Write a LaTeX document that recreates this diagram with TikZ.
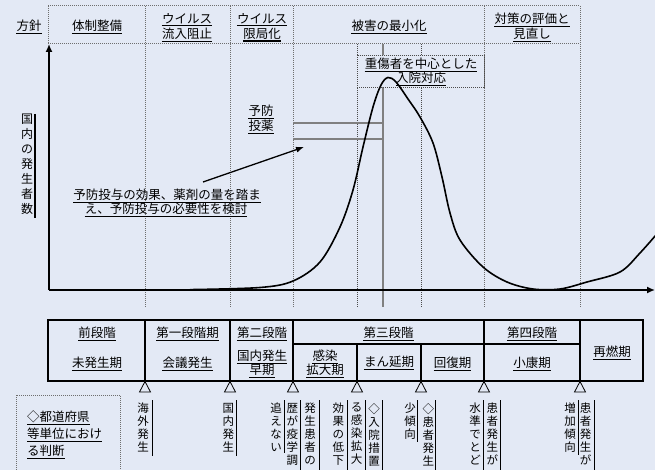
\documentclass[tikz,border=0pt]{standalone}
\usepackage{fontspec}
\setmainfont{Noto Sans CJK JP}
\usetikzlibrary{arrows.meta}
\definecolor{bg}{RGB}{227,233,245}
\definecolor{dotgray}{RGB}{110,110,110}
% underlined label: node plus a TikZ rule under its baseline
\newcommand\uln[4][]{%
  \node[lbl,#1] (#2) at (#3) {#4};
  \draw[ulrule] (#2.south west) -- (#2.south east);}
\begin{document}
\begin{tikzpicture}[x=1pt,y=-1pt,
  lbl/.style={font=\fontsize{12.5}{15}\selectfont, inner xsep=0pt, inner ysep=1.2pt},
  ulrule/.style={draw=black, line width=1.2pt},
  vtext/.style={font=\fontsize{11.5}{13}\selectfont, inner sep=0pt, align=center, anchor=north},
  dotln/.style={draw=dotgray, line width=1pt, dash pattern=on 1pt off 1pt},
  fineln/.style={draw=black!70, line width=0.9pt, dash pattern=on 1pt off 1pt},
  grayln/.style={draw=gray, line width=1.6pt},
  axis/.style={draw=black, line width=1.5pt, -{Latex[length=8pt,width=7pt]}},
  curve/.style={draw=black, line width=1.6pt},
  tbl/.style={draw=black, line width=1.2pt},
  sideln/.style={draw=black, line width=1pt},
  tri/.style={draw=black, line width=0.8pt, fill=bg},
  annarrow/.style={draw=black, line width=1.3pt, -{Latex[length=8pt,width=6pt]}}
]
\useasboundingbox (0,0) rectangle (655,470);
\fill[bg] (0,0) rectangle (655,470);
\begin{scope}
\clip (0,0) rectangle (655,470);

% ---------- header dotted frame and vertical separators ----------
\draw[dotln] (48,6) -- (580,6);
\draw[dotln] (48,44) -- (580,44);
\draw[dotln] (48,6) -- (48,44);
\foreach \x in {145,230,293,484,580} \draw[dotln] (\x,6) -- (\x,307);
\draw[fineln] (357,44) -- (357,307);
\draw[fineln] (421,44) -- (421,307);
\draw[grayln] (383,44) -- (383,307);
% prophylaxis band
\draw[grayln] (293,123) -- (383,123);
\draw[grayln] (293,139) -- (383,139);

% severe case box
\node[fill=bg, fineln, inner sep=0pt, minimum width=127pt, minimum height=32pt, anchor=north west] (sbox) at (357,55) {};
\uln{st1}{421,64}{重傷者を中心とした}
\uln{st2}{421,78}{入院対応}

% header texts
\uln{h0}{29,26}{方針}
\uln{h1}{97,26}{体制整備}
\uln{h2a}{187,19}{ウイルス}
\uln{h2b}{187,34}{流入阻止}
\uln{h3a}{262,19}{ウイルス}
\uln{h3b}{262,34}{限局化}
\uln{h4}{389,26}{被害の最小化}
\uln{h5a}{532,19}{対策の評価と}
\uln{h5b}{532,34}{見直し}

% ---------- axes ----------
\coordinate (o) at (49,290);
\coordinate (ytop) at (49,44);
\coordinate (xend) at (655,290);
\draw[axis] (o) -- (ytop);
\draw[axis] (o) -- (xend);

% y label
\node[vtext, font=\fontsize{12}{15}\selectfont] (ylab) at (27,114) {国\\内\\の\\発\\生\\者\\数};
\draw[line width=1.5pt] (35,114) -- (35,218);

% curve
\draw[curve] plot[smooth, tension=0.55] coordinates {(190,289.6) (260,287.5) (293,281) (320,262) (340,227) (353,190) (363,147) (373,107) (381,85) (388,77.5) (396,82) (408,99) (420,117) (433,143) (442,177) (450,213) (460,240) (483,267) (507,282) (533,289) (560,289) (587,282) (620,272) (640,253) (662,228)};

% prophylaxis labels
\uln{yobo1}{261,111}{予防}
\uln{yobo2}{261,126}{投薬}
\uln{note1}{167,195}{予防投与の効果、薬剤の量を踏ま}
\uln{note2}{166,209}{え、予防投与の必要性を検討}
\coordinate (nstart) at (203,182);
\coordinate (nend) at (304,147);
\draw[annarrow] (nstart) -- (nend);

% ---------- phase table ----------
\draw[tbl] (48,320) rectangle (643,381);
\foreach \x in {145,230,293,484,580} \draw[tbl] (\x,320) -- (\x,381);
\foreach \x in {357,421} \draw[tbl] (\x,344) -- (\x,381);
\draw[tbl] (293,344) -- (580,344);

\uln{p0a}{97,333}{前段階}
\uln{p0b}{97,363}{未発生期}
\uln{p1a}{187.5,333}{第一段階期}
\uln{p1b}{187.5,363}{会議発生}
\uln{p2a}{262,333}{第二段階}
\uln{p2b}{262,356}{国内発生}
\uln{p2c}{262,370}{早期}
\uln{p3a}{388.5,333}{第三段階}
\uln{p3b}{325,356}{感染}
\uln{p3c}{325,370}{拡大期}
\uln{p3d}{389,362}{まん延期}
\uln{p3e}{452.5,363}{回復期}
\uln{p4a}{532,333}{第四段階}
\uln{p4b}{532,363}{小康期}
\uln{p5}{612,352}{再燃期}

\foreach \x in {145,230,293,357,421,484,580}
  \draw[tri] (\x,381.5) -- (\x-5.5,392) -- (\x+5.5,392) -- cycle;

% ---------- prefecture judgement box ----------
\draw[dotln] (16,395) rectangle (120,485);
\uln[anchor=west]{pr1}{27,417}{◇都道府県}
\uln[anchor=west]{pr2}{27,434}{等単位におけ}
\uln[anchor=west]{pr3}{27,451}{る判断}

% ---------- vertical notes ----------
\node[vtext] (v1) at (143,403) {海\\外\\発\\生};
\draw[sideln] (152,400) -- (152,456);
\node[vtext] (v2) at (228.3,403) {国\\内\\発\\生};
\draw[sideln] (236.7,400) -- (236.7,456);
\node[vtext] (v3) at (276.2,403) {追\\え\\な\\い};
\draw[sideln] (284,400) -- (284,453);
\node[vtext] (v4) at (292.3,403) {歴\\が\\疫\\学\\調};
\draw[sideln] (300.7,400) -- (300.7,480);
\node[vtext] (v5) at (310,403) {発\\生\\患\\者\\の};
\draw[sideln] (319,400) -- (319,480);
\node[vtext] (v6) at (338.3,403) {効\\果\\の\\低\\下};
\draw[sideln] (347.3,400) -- (347.3,480);
\node[vtext] (v7) at (356.7,403) {る\\感\\染\\拡\\大};
\draw[sideln] (365,400) -- (365,480);
\node[vtext] (v8) at (374,403) {◇\\入\\院\\措\\置};
\draw[sideln] (382.3,400) -- (382.3,480);
\node[vtext] (v9) at (410,403) {少\\傾\\向};
\draw[sideln] (417.3,400) -- (417.3,442);
\node[vtext] (v10) at (428.3,403) {◇\\患\\者\\発\\生};
\draw[sideln] (435.7,400) -- (435.7,480);
\node[vtext] (v11) at (475,403) {水\\準\\で\\と\\ど};
\draw[sideln] (483.3,400) -- (483.3,480);
\node[vtext] (v12) at (492.3,403) {患\\者\\発\\生\\が};
\draw[sideln] (500.7,400) -- (500.7,480);
\node[vtext] (v13) at (570,403) {増\\加\\傾\\向};
\draw[sideln] (578.3,400) -- (578.3,455);
\node[vtext] (v14) at (585.7,403) {患\\者\\発\\生\\が};
\draw[sideln] (594,400) -- (594,480);
\end{scope}
\end{tikzpicture}
\end{document}
